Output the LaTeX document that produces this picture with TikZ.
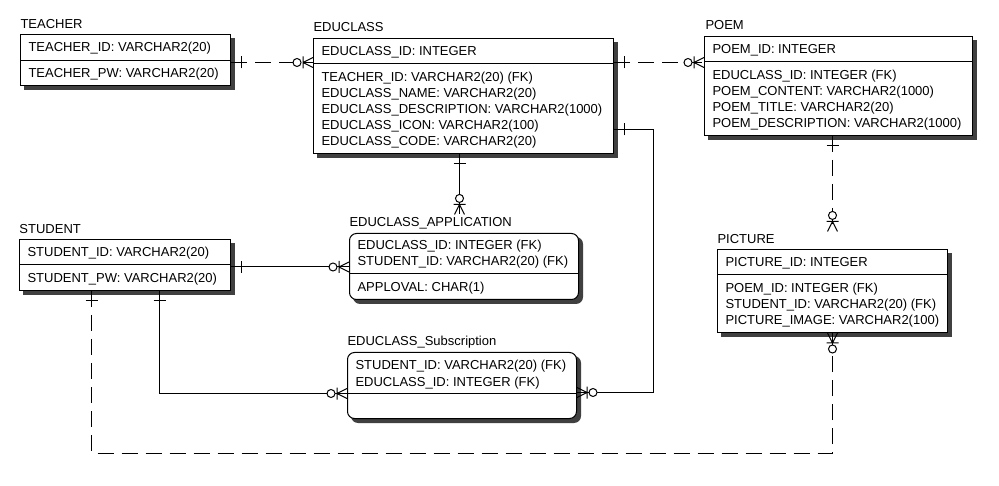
\documentclass[tikz,border=0pt]{standalone}
\usepackage{fontspec}
\setmainfont{Liberation Sans}
\usetikzlibrary{backgrounds}
\begin{document}
\begin{tikzpicture}[x=1pt,y=-1pt,line width=1pt,
    tbl/.style={draw,fill=white,inner sep=0,anchor=north west},
    rtbl/.style={tbl,rounded corners=7pt},
    attr/.style={anchor=base west,inner sep=0,font=\fontsize{13}{16}\selectfont},
    ttl/.style={attr,inner ysep=3pt},
    rel/.style={dash pattern=on 16pt off 8pt},
    onebar/.pic={\draw[solid] (-10,-6) -- (-10,6);},
    zmany/.pic={\draw[solid,fill=white] (-16,0) circle[radius=4pt];
      \draw[solid] (-10,-6) -- (-10,6) (-10,0) -- (0,5) (-10,0) -- (0,-5);}]
    \useasboundingbox (0,0) rectangle (999,486);
    \node[tbl,minimum width=210pt,minimum height=51pt] (teacher) at (20,34) {};
    \node[tbl,minimum width=300pt,minimum height=115pt] (educlass) at (313,38) {};
    \node[tbl,minimum width=268pt,minimum height=99pt] (poem) at (704,36) {};
    \node[tbl,minimum width=211pt,minimum height=51pt] (student) at (19,239) {};
    \node[rtbl,minimum width=229pt,minimum height=66pt] (app) at (349,233) {};
    \node[rtbl,minimum width=229pt,minimum height=66pt] (subs) at (347,352) {};
    \node[tbl,minimum width=230pt,minimum height=83pt] (picture) at (717,249) {};
    \begin{scope}[on background layer]
      \foreach \n/\r in {teacher/0,educlass/0,poem/0,student/0,app/7,subs/7,picture/0}
        \fill[black!75,rounded corners=\r] ([shift={(4,4)}]\n.north west) rectangle ([shift={(4,4)}]\n.south east);
    \end{scope}
    \foreach \n/\y in {teacher/61,educlass/64,poem/62,student/265,app/274,subs/393,picture/275}
      \draw (\n.west |- 0,\y) -- (\n.east |- 0,\y);
    \node[ttl] (teacher-t) at (20,29) {TEACHER};
    \node[ttl] (educlass-t) at (313,32) {EDUCLASS};
    \node[ttl] (poem-t) at (705,30) {POEM};
    \node[ttl] (student-t) at (19,234) {STUDENT};
    \node[ttl] (app-t) at (349,227) {EDUCLASS\_APPLICATION};
    \node[ttl] (subs-t) at (347,346) {EDUCLASS\_Subscription};
    \node[ttl] (picture-t) at (717,244) {PICTURE};
    \node[attr] (teacher-k) at (28,52) {TEACHER\_ID: VARCHAR2(20)};
    \node[attr] (teacher-1) at (28,78) {TEACHER\_PW: VARCHAR2(20)};
    \node[attr] (educlass-k) at (321,56) {EDUCLASS\_ID: INTEGER};
    \foreach \f [count=\i] in {TEACHER\_ID: VARCHAR2(20) (FK),EDUCLASS\_NAME: VARCHAR2(20),
        EDUCLASS\_DESCRIPTION: VARCHAR2(1000),EDUCLASS\_ICON: VARCHAR2(100),EDUCLASS\_CODE: VARCHAR2(20)}
      \node[attr] (educlass-\i) at (321,66+16*\i) {\f};
    \node[attr] (poem-k) at (712,54) {POEM\_ID: INTEGER};
    \foreach \f [count=\i] in {EDUCLASS\_ID: INTEGER (FK),POEM\_CONTENT: VARCHAR2(1000),
        POEM\_TITLE: VARCHAR2(20),POEM\_DESCRIPTION: VARCHAR2(1000)}
      \node[attr] (poem-\i) at (712,64+16*\i) {\f};
    \node[attr] (student-k) at (27,257) {STUDENT\_ID: VARCHAR2(20)};
    \node[attr] (student-1) at (27,283) {STUDENT\_PW: VARCHAR2(20)};
    \node[attr] (app-k1) at (357,250) {EDUCLASS\_ID: INTEGER (FK)};
    \node[attr] (app-k2) at (357,266) {STUDENT\_ID: VARCHAR2(20) (FK)};
    \node[attr] (app-1) at (357,292) {APPLOVAL: CHAR(1)};
    \node[attr] (subs-k1) at (355,370) {STUDENT\_ID: VARCHAR2(20) (FK)};
    \node[attr] (subs-k2) at (355,386) {EDUCLASS\_ID: INTEGER (FK)};
    \node[attr] (picture-k) at (725,267) {PICTURE\_ID: INTEGER};
    \foreach \f [count=\i] in {POEM\_ID: INTEGER (FK),STUDENT\_ID: VARCHAR2(20) (FK),
        PICTURE\_IMAGE: VARCHAR2(100)}
      \node[attr] (picture-\i) at (725,277+16*\i) {\f};
    \coordinate (t1) at ([yshift=-2.5pt]teacher.east);
    \coordinate (e1) at ([yshift=-33.5pt]educlass.east);
    \coordinate (e2) at ([xshift=-4pt]educlass.south);
    \coordinate (s1) at ([yshift=-7pt]subs.east);
    \coordinate (s2) at ([yshift=-2pt]student.east);
    \coordinate (s3) at ([xshift=34.5pt]student.south);
    \coordinate (s4) at ([yshift=-8pt]subs.west);
    \coordinate (s5) at ([xshift=-33.5pt]student.south);
    \coordinate (p1) at (picture.south |- poem.south);
    \draw[rel] (t1) -- (t1 -| educlass.west);
    \draw[rel] (educlass.east |- t1) -- (poem.west |- t1);
    \draw (e1) -- ++(39,0) |- (s1);
    \draw (e2) -- (e2 |- app-t.north);
    \draw (s2) -- (s2 -| app.west);
    \draw (s3) |- (s4);
    \draw[rel] (s5) -- ++(0,162) -| (picture.south);
    \draw[rel] (p1) -- (p1 |- picture-t.north);
    \foreach \a/\r in {t1/180,educlass.east |- t1/180,e1/180,e2/90,s2/180,s3/90,s5/90,p1/90}
      \pic[rotate=\r] at (\a) {onebar};
    \foreach \a/\r in {t1 -| educlass.west/0,poem.west |- t1/0,s1/180,e2 |- app-t.north/-90,
        s2 -| app.west/0,s4/0,picture.south/90,p1 |- picture-t.north/-90}
      \pic[rotate=\r] at (\a) {zmany};
\end{tikzpicture}
\end{document}
